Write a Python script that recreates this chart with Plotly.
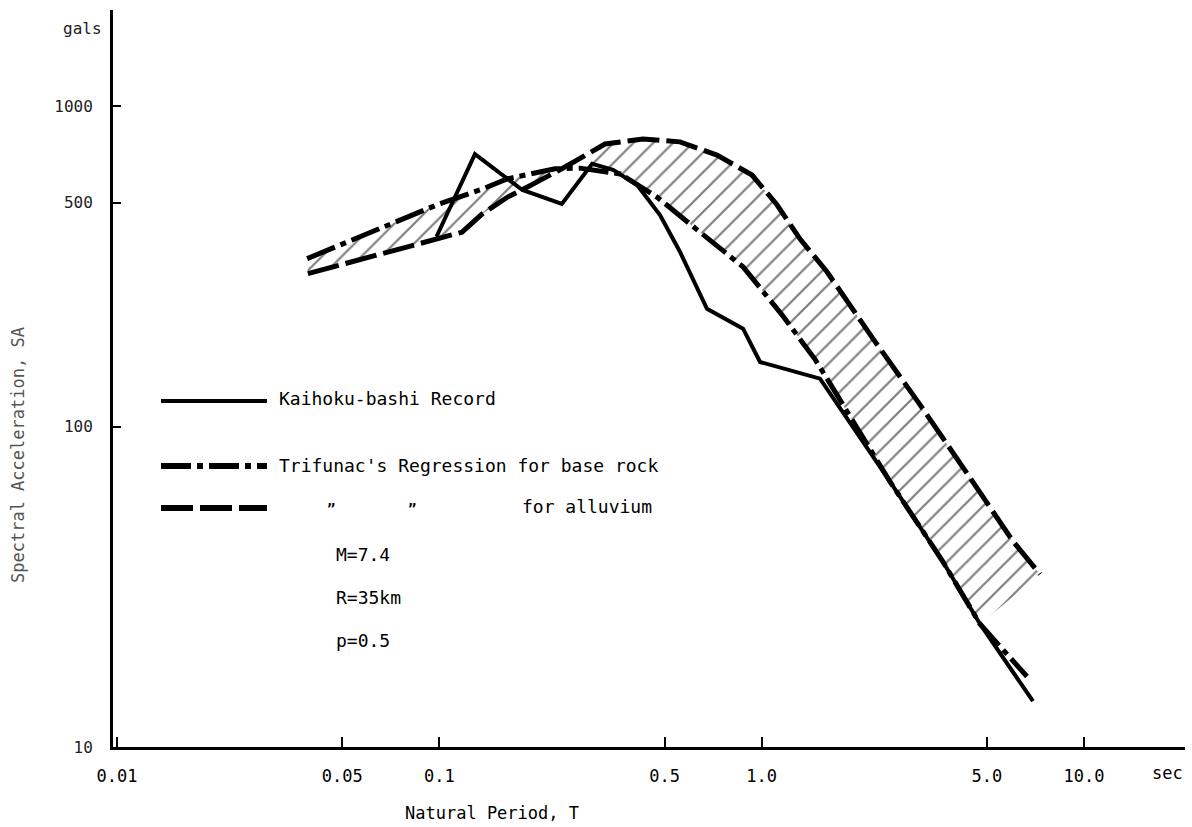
import plotly.graph_objects as go

# ---------------- data ----------------
record_T = [0.098, 0.129, 0.181, 0.240, 0.298, 0.346, 0.411, 0.484, 0.558, 0.677,
            0.876, 0.989, 1.518, 2.5, 3.65, 4.76, 6.95]
record_SA = [391, 708, 547, 495, 660, 632, 567, 457, 351, 233,
             202, 159, 141, 67.4, 37.9, 24.2, 13.9]

rock_T = [0.0389, 0.100, 0.136, 0.163, 0.2285, 0.273, 0.364, 0.4735, 0.644, 0.876,
          1.157, 1.465, 1.596, 2.5, 3.65, 4.76, 6.66]
rock_SA = [334, 495, 551, 593, 637, 640, 614, 520, 404, 315,
           223, 162, 141, 67.4, 37.9, 24.2, 16.6]

alluv_T = [0.0391, 0.099, 0.1176, 0.1357, 0.163, 0.1884, 0.240, 0.3266, 0.4285, 0.558,
           0.727, 0.934, 1.116, 1.315, 1.595, 2.216, 3.10, 4.34, 6.03, 7.31]
alluv_SA = [300, 385, 404, 460, 520, 560, 637, 761, 789, 773,
            703, 609, 492, 385, 304, 188, 117, 71.4, 43.8, 34.6]

x_tickvals = [0.01, 0.05, 0.1, 0.5, 1.0, 5.0, 10.0]
x_ticktext = ["0.01", "0.05", "0.1", "0.5", "1.0", "5.0", "10.0"]
y_tickvals = [10, 100, 500, 1000]
y_ticktext = ["10", "100", "500", "1000"]

legend_labels = ["Kaihoku-bashi Record",
                 "Trifunac's Regression for base rock",
                 "for alluvium"]
params = ["M=7.4", "R=35km", "p=0.5"]

# ---------------- layout geometry (pixels) ----------------
W, H = 1192, 827
L, R, T, B = 113, 1185, 10, 747
PW, PH = R - L, B - T
FONT = "DejaVu Sans Mono"


def px(x):
    return (x - L) / PW


def py(y):
    return (B - y) / PH


DASHDOT = "30px,6px,6px,6px"
DASHED = "32px,7px"

fig = go.Figure()

# hatched band between the two regressions
band_T = alluv_T + rock_T[:-1][::-1]
band_SA = alluv_SA + rock_SA[:-1][::-1]
fig.add_trace(go.Scatter(
    x=band_T, y=band_SA, mode="lines", fill="toself",
    line=dict(width=0, color="rgba(0,0,0,0)"),
    fillcolor="rgba(0,0,0,0)",
    fillpattern=dict(shape="/", fgcolor="black", bgcolor="rgba(255,255,255,0)",
                     size=14, solidity=0.16),
    hoverinfo="skip", showlegend=False))

fig.add_trace(go.Scatter(x=alluv_T, y=alluv_SA, mode="lines",
                         line=dict(color="black", width=5, dash=DASHED),
                         showlegend=False))
fig.add_trace(go.Scatter(x=rock_T, y=rock_SA, mode="lines",
                         line=dict(color="black", width=5, dash=DASHDOT),
                         showlegend=False))
fig.add_trace(go.Scatter(x=record_T, y=record_SA, mode="lines",
                         line=dict(color="black", width=4),
                         showlegend=False))

# legend samples
shapes = []
for yy, dash, wd in [(401, "solid", 4), (466, DASHDOT, 6), (508, DASHED, 6)]:
    shapes.append(dict(type="line", xref="paper", yref="paper",
                       x0=px(161), x1=px(267), y0=py(yy), y1=py(yy),
                       line=dict(color="black", width=wd, dash=dash)))

ann = []
tf = dict(family=FONT, size=18, color="black")
ann.append(dict(x=px(277), y=py(398), text=legend_labels[0]))
ann.append(dict(x=px(277), y=py(465), text=legend_labels[1]))
ann.append(dict(x=px(520), y=py(507), text=legend_labels[2]))
for i, t in enumerate(params):
    ann.append(dict(x=px(334), y=py(554 + 43 * i), text=t))
for a in ann:
    a.update(xref="paper", yref="paper", xanchor="left", yanchor="middle",
             showarrow=False, font=tf)


def center_ann(x, y, text, size, color="black", family=FONT, angle=0):
    return dict(x=px(x), y=py(y), xref="paper", yref="paper", text=text,
                xanchor="center", yanchor="middle", showarrow=False,
                textangle=angle, font=dict(family=family, size=size, color=color))


# ditto marks
for xx in (331, 412):
    ann.append(center_ann(xx, 509, "<b>\u201d</b>", 14))
# axis annotations
ann.append(center_ann(82, 28, "gals", 16, "#222"))
ann.append(center_ann(1167, 773, "sec", 17))
ann.append(center_ann(492, 813, "Natural Period, T", 17))
ann.append(center_ann(18, 455, "Spectral Acceleration, SA", 17, "#555",
                      FONT, -90))

fig.update_layout(
    width=W, height=H,
    margin=dict(l=L, r=W - R, t=T, b=H - B),
    paper_bgcolor="white", plot_bgcolor="white",
    shapes=shapes, annotations=ann,
    showlegend=False,
)
fig.update_xaxes(type="log", range=[-2.0124, 1.3137],
                 tickvals=x_tickvals, ticktext=x_ticktext,
                 ticks="inside", ticklen=10, tickwidth=2, tickcolor="black",
                 showline=True, linewidth=3, linecolor="black",
                 showgrid=False, zeroline=False, ticklabelstandoff=12,
                 tickfont=dict(family=FONT, size=17, color="black"))
fig.update_yaxes(type="log", range=[1.0, 3.2996],
                 tickvals=y_tickvals, ticktext=y_ticktext,
                 ticks="inside", ticklen=8, tickwidth=2, tickcolor="black",
                 showline=True, linewidth=3, linecolor="black",
                 showgrid=False, zeroline=False, ticklabelstandoff=14,
                 tickfont=dict(family=FONT, size=16, color="#222"))

fig.write_html("out.html")
